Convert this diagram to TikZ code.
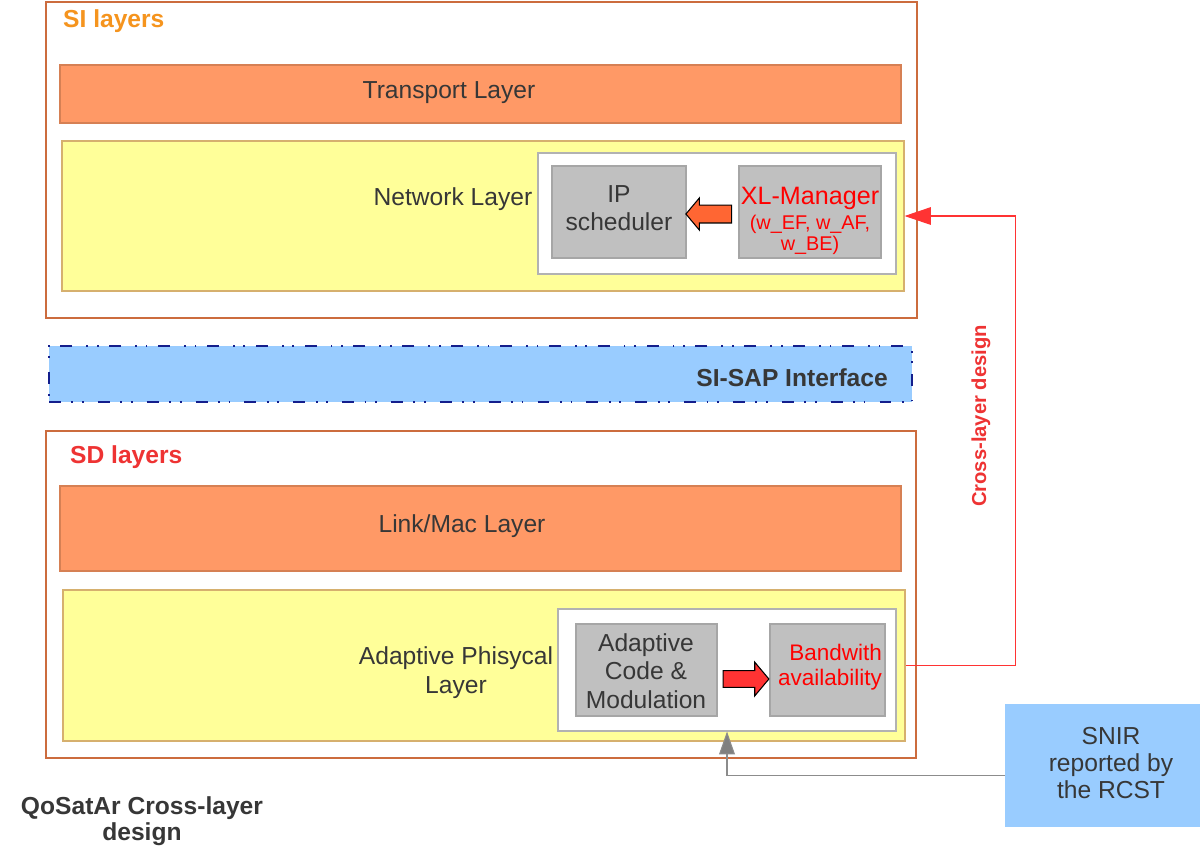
\documentclass[tikz,border=0pt]{standalone}
\usepackage{fontspec}
\setmainfont{Liberation Sans}
\usepackage{tikz}
\usetikzlibrary{calc, positioning, shapes, arrows.meta, fit}

\definecolor{framebrown}{RGB}{204,108,62}
\definecolor{salmon}{RGB}{255,153,102}
\definecolor{salmonline}{RGB}{214,128,84}
\definecolor{paleyellow}{RGB}{255,255,153}
\definecolor{yellowline}{RGB}{214,176,110}
\definecolor{boxgray}{RGB}{192,192,192}
\definecolor{skyblue}{RGB}{153,204,255}
\definecolor{sapnavy}{RGB}{20,30,140}
\definecolor{darktext}{RGB}{55,55,55}
\definecolor{sitext}{RGB}{245,148,30}
\definecolor{sdtext}{RGB}{238,51,51}
\definecolor{xlred}{RGB}{255,0,0}
\definecolor{arroworange}{RGB}{255,102,51}
\definecolor{arrowred}{RGB}{255,51,51}

\tikzstyle{layergroup}=[draw=framebrown, line width=1.5pt, inner sep=0pt]
\tikzstyle{layerbar}=[draw=salmonline, fill=salmon, line width=0.6pt, inner sep=0pt]
\tikzstyle{layerzone}=[draw=yellowline, fill=paleyellow, line width=0.6pt, inner sep=0pt]
\tikzstyle{holder}=[draw=black!30, fill=white, line width=0.6pt, inner sep=0pt]
\tikzstyle{unit}=[draw=black!35, fill=boxgray, line width=0.6pt, inner sep=0pt]
\tikzstyle{unittext}=[align=center, text=darktext, font=\fontsize{14}{16.2}\selectfont]
\tikzstyle{layertext}=[text=darktext, align=center, font=\fontsize{14}{16.4}\selectfont]
\tikzstyle{fattext}=[font=\bfseries\fontsize{14}{16}\selectfont]
\tikzstyle{blockarrow}=[single arrow, draw=black, line width=0.6pt, minimum height=26pt, single arrow tip angle=100]
\tikzstyle{xlline}=[draw=red!80, line width=0.6pt, -{Triangle[length=15pt, width=10pt, fill=arrowred]}]
\tikzstyle{snirline}=[draw=black!45, line width=0.6pt, -{Triangle[length=13pt, width=9pt, fill=black!50]}]

\begin{document}
\begin{tikzpicture}[x=0.2mm, y=-0.2mm]

		%fix the page to the reference size
		\useasboundingbox (0,0) rectangle (1200,849);

		%draw the SI layers group
		\node[layergroup, fit={(46,2) (917,318)}] (sigroup) {};
		\node[fattext, text=sitext, anchor=base west] (sititle) at (57,27) {SI layers};
		\node[layerbar, fit={(60,65) (901,123)}] (transport) {};
		\node[layertext] (transporttext) at (449,93) {Transport Layer};
		\node[layerzone, fit={(62,141) (904,291)}] (netzone) {};
		\node[layertext] (nettext) at (453,199) {Network Layer};
		\node[holder, fit={(538,153) (896,274)}] (netholder) {};
		\node[unit, fit={(552,166) (686,258)}] (ipsched) {};
		\node[unittext] (ipschedtext) at (619,208) {IP\\scheduler};
		\node[unit, fit={(739,166) (881,258)}] (xlman) {};
		\node[unittext, text=xlred, font=\fontsize{11.3}{12}\selectfont] (xlmantext) at (810,221)
			{{\fontsize{14.3}{16}\selectfont XL-Manager}\\[2pt](w\_EF, w\_AF,\\w\_BE)};
		\node[blockarrow, fill=arroworange, shape border rotate=180, inner sep=4.8pt, single arrow head extend=4pt]
			(xlarrow) at ($(ipsched.east)!0.5!(xlman.west)+(0,2)$) {};

		%draw the interface bar
		\node[fill=skyblue, draw=sapnavy, line width=0.6pt, inner sep=0pt,
			dash pattern=on 6.8pt off 6pt on 1pt off 5pt on 1pt off 8pt, fit={(49,346) (912,402)}] (sap) {};
		\node[fattext, text=darktext, anchor=east] (saptext) at (894,378) {SI-SAP Interface};

		%draw the SD layers group
		\node[layergroup, fit={(46,431) (916,758)}] (sdgroup) {};
		\node[fattext, text=sdtext, anchor=base west] (sdtitle) at (64,463) {SD layers};
		\node[layerbar, fit={(60,486) (901,571)}] (linkmac) {};
		\node[layertext] (linkmactext) at (462,526) {Link/Mac Layer};
		\node[layerzone, fit={(63,590) (905,741)}] (physzone) {};
		\node[layertext] (phystext) at (456,673) {Adaptive Phisycal\\Layer};
		\node[holder, fit={(558,609) (896,731)}] (physholder) {};
		\node[unit, fit={(576,624) (717,716)}] (acm) {};
		\node[unittext] (acmtext) at (646,671) {Adaptive\\Code \&\\Modulation};
		\node[unit, fit={(770,624) (885,716)}] (bandwidth) {};
		\node[unittext, text=xlred, align=right, font=\fontsize{12.8}{14.4}\selectfont] (bandwidthtext) at (830,667)
			{Bandwith\\availability};
		\node[blockarrow, fill=arrowred, inner sep=4.5pt, single arrow head extend=4.8pt]
			(bwarrow) at ($(acm.east)!0.5!(bandwidth.west)+(-1,9)$) {};

		%draw the SNIR source
		\node[fill=skyblue, inner sep=0pt, fit={(1005,704) (1200,827)}] (snir) {};
		\node[layertext, font=\fontsize{14}{15.6}\selectfont] (snirtext) at (1111,763) {SNIR\\reported by\\the RCST};

		%draw the cross-layer links
		\draw[xlline] (physzone.east) -- ++(110,0) |- (netzone.east);
		\node[fattext, font=\bfseries\fontsize{11.5}{13}\selectfont, text=sdtext, rotate=90] (xltitle) at (981,416) {Cross-layer design};
		\draw[snirline] ($(snir.west)+(0,10)$) -| (physholder.south);

		%caption
		\node[text=darktext, align=center, font=\bfseries\fontsize{14}{15}\selectfont] (caption) at (142,821) {QoSatAr Cross-layer\\design};

\end{tikzpicture}
\end{document}
